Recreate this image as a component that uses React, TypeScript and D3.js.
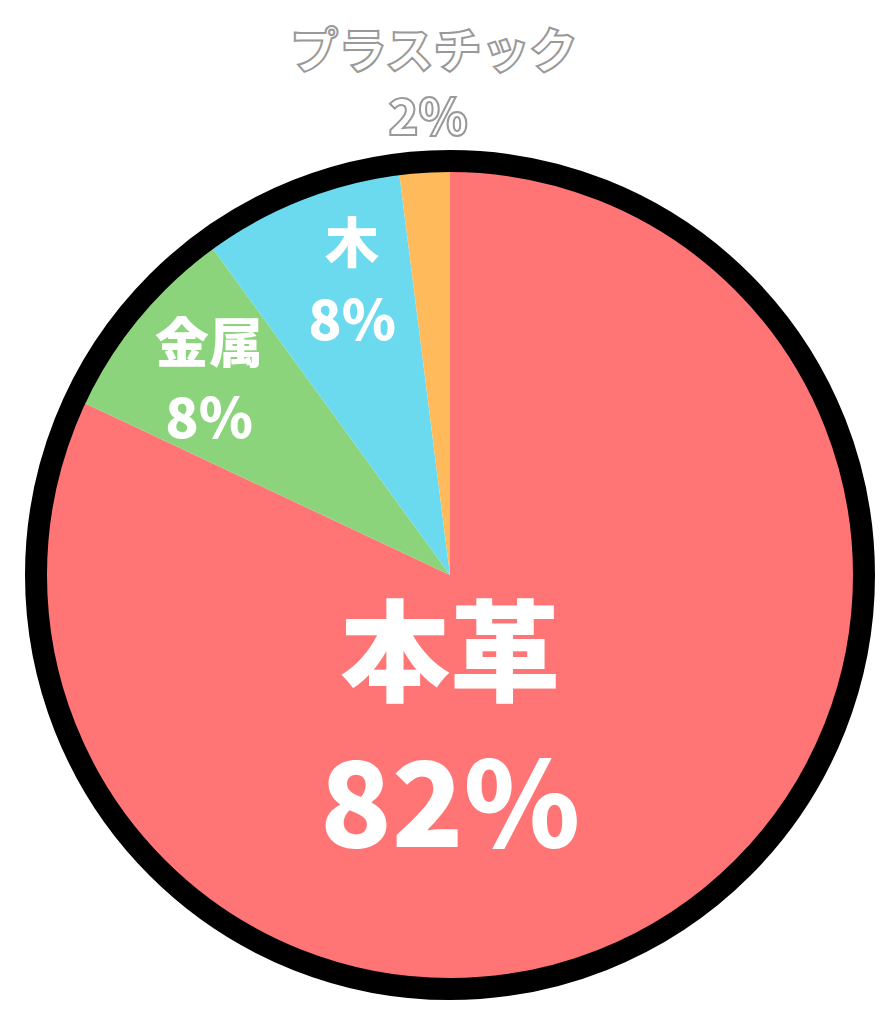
import React from "react";
import * as d3 from "d3";

const categories = ["本革", "金属", "木", "プラスチック"];
const values = [82, 8, 8, 2];
const percentLabels = ["82%", "8%", "8%", "2%"];
const colors = ["#FF7575", "#8BD47C", "#6CDAEE", "#FFBB5B"];

const W = 890;
const H = 1024;
const CX = 450;
const CY = 575;
const R = 404;
const RING = 22;

// label layout relative to pie center
const labelLayout = [
  { dx: 0, dy: 70, gap: 150, size1: 110, size2: 118, outside: false },
  { dx: -241, dy: -236, gap: 75, size1: 54, size2: 55, outside: false },
  { dx: -98, dy: -336, gap: 77, size1: 54, size2: 55, outside: false },
  { dx: -16, dy: -528, gap: 66, size1: 48, size2: 50, outside: true },
];

export default function App() {
  const data = categories.map((c, i) => ({ c, v: values[i], p: percentLabels[i], col: colors[i] }));
  const pie = d3.pie<any>().value((d) => d.v).sort(null);
  const arcs = pie(data);
  const arc = d3.arc<any>().innerRadius(0).outerRadius(R);
  const font = "'Noto Sans CJK JP', 'Noto Sans', sans-serif";
  return (
    <svg width={W} height={H} style={{ position: "absolute", left: 0, top: 0 }}>
      <rect width={W} height={H} fill="#fff" />
      <g transform={`translate(${CX},${CY})`}>
        {arcs.map((a, i) => (
          <path key={i} d={arc(a) as string} fill={a.data.col} />
        ))}
        <circle r={R + RING / 2 - 1} fill="none" stroke="#000" strokeWidth={RING} />
        {arcs.map((a, i) => {
          const L = labelLayout[i];
          const common = {
            textAnchor: "middle" as const,
            dominantBaseline: "central" as const,
            fontFamily: font,
            fontWeight: 900,
            fill: "#fff",
            stroke: L.outside ? "#999" : "none",
            strokeWidth: L.outside ? 2 : 0,
          };
          return (
            <g key={"l" + i}>
              <text x={L.dx} y={L.dy} fontSize={L.size1} {...common}>
                {a.data.c}
              </text>
              <text x={L.dx - (L.outside ? 6 : 0)} y={L.dy + L.gap} fontSize={L.size2} {...common}>
                {a.data.p}
              </text>
            </g>
          );
        })}
      </g>
    </svg>
  );
}
